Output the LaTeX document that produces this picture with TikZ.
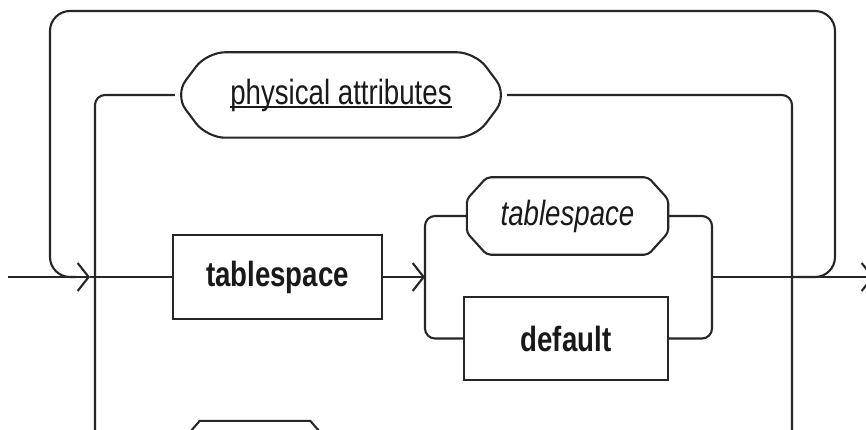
\documentclass[tikz,border=0pt]{standalone}
\usepackage{fontspec}
\setmainfont[FakeStretch=0.79]{Liberation Sans}
\usetikzlibrary{arrows.meta,calc}

% outline of a terminal/nonterminal with cut corners
\newcommand\chamferoutline[4][]{% [extra style]{node}{x cut}{y cut}
  \draw[line,#1] ($(#2.north west)+(#3,0)$) -- ($(#2.north east)+(-#3,0)$)
    -- ($(#2.north east)+(0,#4)$) -- ($(#2.south east)+(0,-#4)$)
    -- ($(#2.south east)+(-#3,0)$) -- ($(#2.south west)+(#3,0)$)
    -- ($(#2.south west)+(0,-#4)$) -- ($(#2.north west)+(0,#4)$) -- cycle;}

% underline set close under the baseline, crossing the descenders
\newcommand\ulbase[1]{\setbox0\hbox{#1}\rlap{\rule[-3.8pt]{\wd0}{1.6pt}}\box0}

\begin{document}
\begin{tikzpicture}[x=1pt,y=-1pt,
  line/.style={draw=black!85, line width=2.1pt},
  loop/.style={line, rounded corners=10pt},
  arr/.style={-{Straight Barb[length=11pt,width=28pt,line width=2.1pt]}},
  txt/.style={text=black!90, font=\fontsize{35}{38}\selectfont},
  kwbox/.style={line, txt, rectangle, inner sep=0pt, font=\fontsize{35}{38}\selectfont\bfseries},
  slot/.style={txt, rectangle, inner sep=0pt},
]
\useasboundingbox (0,0) rectangle (866,430);
\clip (0,0) rectangle (866,430);

% elements
\node[kwbox, minimum width=209pt, minimum height=84pt] (ts) at (277.5,277) {tablespace};
\node[slot, font=\fontsize{35}{38}\selectfont\itshape, minimum width=201pt, minimum height=77pt] (tsi) at (567.5,216) {tablespace};
\node[kwbox, minimum width=204pt, minimum height=83pt] (def) at (566,338.5) {default};
\node[slot, minimum width=332pt, minimum height=85pt] (pa) at (341,95) {\ulbase{physical attributes}};
\node[slot, minimum width=138pt, minimum height=80pt] (nxt) at (255,461) {};

\chamferoutline[rounded corners=4pt]{tsi}{20}{22}
\chamferoutline{nxt}{14}{16}
\draw[line, rounded corners=18pt] (pa.west) -- ($(pa.north west)+(32,0)$)
  -- ($(pa.north east)+(-32,0)$) -- (pa.east) -- ($(pa.south east)+(-32,0)$)
  -- ($(pa.south west)+(32,0)$) -- cycle;

% junctions and free ends
\coordinate (start) at (8,277);
\coordinate (inArr) at (90,277);
\coordinate (loopIn) at (76,277);
\coordinate (loopOut) at (792,277);
\coordinate (loopNE) at (835,11);
\coordinate (loopSW) at (50,277);
\coordinate (botL) at (95,445);
\coordinate (botR) at (792,445);
\coordinate (bL) at (425,277);
\coordinate (bR) at (712,277);
\coordinate (stop) at (874,277);

% main line
\draw[line, arr] (start) -- (inArr);
\draw[line] (inArr) -- (ts.west);
\draw[line, arr] (ts.east) -- (bL);
\draw[line, arr] (bR) -- (stop);

% repeat loop over the top
\draw[line, rounded corners=20pt] (loopOut) -| (loopNE) -| (loopSW) -- (loopIn);

% alternative: physical attributes
\draw[loop] (botL) |- (pa.west);
\draw[loop] (pa.east) -| (botR);

% choice between tablespace name and default
\draw[loop] (bL) |- (tsi.west);
\draw[loop] (bL) |- (def.west);
\draw[loop] (tsi.east) -| (bR);
\draw[loop] (def.east) -| (bR);
\end{tikzpicture}
\end{document}
